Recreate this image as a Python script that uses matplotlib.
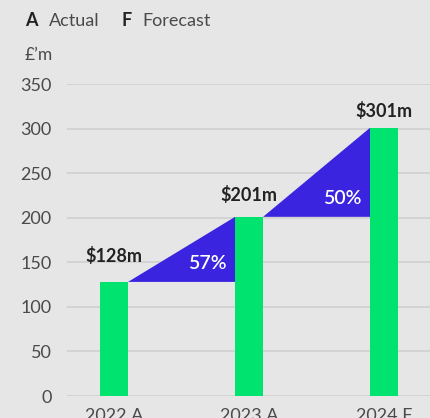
#!/usr/bin/env python3
"""
Revenue step chart: actual vs forecast, with growth triangles
"""
import matplotlib
matplotlib.use('Agg')
import matplotlib.pyplot as plt
import numpy as np

# data
years = ['2022 A', '2023 A', '2024 F']
revenue = [128, 201, 301]
value_labels = ['$128m', '$201m', '$301m']
growth_labels = ['57%', '50%']
y_ticks = [0, 50, 100, 150, 200, 250, 300, 350]

BG = '#e6e6e6'
GREEN = '#00e36e'
BLUE = '#3b24e0'
GRID = '#d0d0d0'
DARK = '#222222'
GREY = '#4a4a4a'


def main():
    plt.rcParams['font.family'] = ['Lato', 'DejaVu Sans']
    fig = plt.figure(figsize=(4.30, 4.18), dpi=100, facecolor=BG)
    ax = fig.add_axes([0.156, 0.0526, 0.844, 0.7464])
    ax.set_facecolor(BG)

    x = np.arange(len(years))
    width = 0.207
    ax.bar(x, revenue, width=width, color=GREEN, zorder=3)

    # growth triangles between bars
    for i in range(len(revenue) - 1):
        x0 = x[i] + width / 2
        x1 = x[i + 1] - width / 2
        y0, y1 = revenue[i], revenue[i + 1]
        ax.fill([x0, x1, x1], [y0, y1, y0], color=BLUE, lw=0, zorder=2)
        ax.annotate(growth_labels[i], (x0 + 0.74 * (x1 - x0), y0),
                    xytext=(0, 9.5), textcoords='offset points',
                    ha='center', va='baseline', color='white',
                    fontsize=14, fontweight='semibold', zorder=4)

    # value labels above bars
    offsets = [14.4, 11.5, 7.9]
    for i, v in enumerate(revenue):
        ax.annotate(value_labels[i], (x[i], v), xytext=(0, offsets[i]),
                    textcoords='offset points', ha='center', va='baseline',
                    color=DARK, fontsize=13, fontweight='bold')

    ax.set_ylim(0, 350)
    ax.set_xlim(-0.348, 2.34)
    ax.set_yticks(y_ticks)
    ax.set_xticks(x)
    ax.set_xticklabels(years)
    ax.grid(axis='y', color=GRID, lw=1.2, zorder=0)
    ax.tick_params(length=0, labelsize=13, labelcolor=GREY)
    ax.tick_params(axis='y', pad=11)
    ax.tick_params(axis='x', pad=8.5)
    for s in ax.spines.values():
        s.set_visible(False)

    # legend-ish header and unit
    fig.text(0.058, 0.938, 'A', fontsize=13, fontweight='bold', color=DARK)
    fig.text(0.114, 0.938, 'Actual', fontsize=13, color=GREY)
    fig.text(0.283, 0.938, 'F', fontsize=13, fontweight='bold', color=DARK)
    fig.text(0.330, 0.938, 'Forecast', fontsize=13, color=GREY)
    fig.text(0.058, 0.856, '£\u2019m', fontsize=12.5, color=GREY)

    fig.savefig('out.png', dpi=100, facecolor=BG)


if __name__ == "__main__":
    main()
